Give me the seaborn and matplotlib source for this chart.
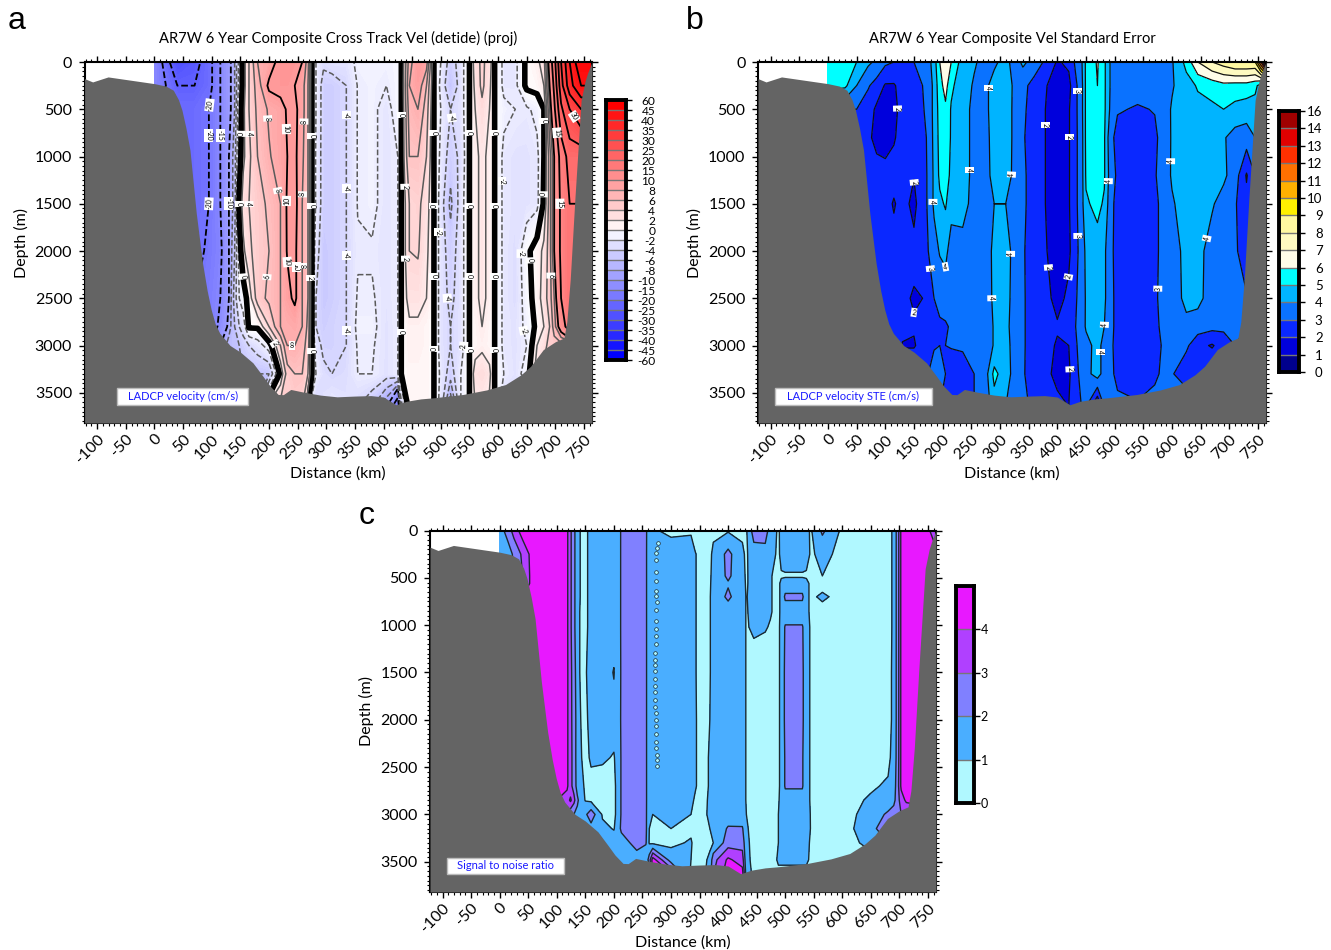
import numpy as np
import seaborn as sns
import matplotlib
matplotlib.use('Agg')
import matplotlib.pyplot as plt
from matplotlib.colors import ListedColormap
from matplotlib.patches import Rectangle
from matplotlib.ticker import MultipleLocator

bathy_km = [-122, -108, -81, 0, 20, 33, 42, 48, 55, 62, 73, 84, 92, 99, 106, 114, 132, 150, 172, 190, 202, 216, 225, 238, 260, 290, 319, 350, 378, 400, 412, 422, 440, 465, 488, 539, 580, 613, 640, 657, 679, 700, 715, 720, 726, 734, 745, 752, 756, 764]
bathy_m = [176, 211, 158, 229, 255, 299, 400, 510, 700, 932, 1600, 2130, 2420, 2620, 2770, 2870, 3000, 3070, 3184, 3330, 3430, 3518, 3520, 3465, 3493, 3525, 3543, 3535, 3530, 3545, 3590, 3627, 3590, 3565, 3553, 3518, 3470, 3413, 3310, 3219, 3043, 2960, 2920, 2750, 2300, 1460, 405, 200, 123, 0]

# panel a, cross track velocity (cm/s)
a_km = [0, 40, 70, 95, 115, 130, 140, 148, 155, 165, 180, 200, 220, 232, 245, 258, 268, 275, 282, 295, 310, 335, 355, 380, 405, 425, 431, 445, 460, 475, 488, 500, 517, 535, 550, 560, 572, 585, 594, 610, 630, 650, 668, 680, 690, 698, 710, 725, 745, 764]
a_depth = [0, 250, 500, 1000, 1500, 2000, 2500, 2800, 3000, 3300, 3650]
vel_0 = [-15, -30, -27, -22, -15, -11, -8, -3, 1, 4, 8, 8.7, 11, 11.5, 11, 10, 7, 0, -2, -3.5, -3, -3, -1.5, -1.5, -1.5, -1, 0, 7, 10, 9, 0, -2, -5, -3, 0, 3, 4.5, 3, 0, -2.5, -2.5, 0.5, 1.5, 3, 12, 18, 30, 40, 50, 50]
vel_250 = [-15, -25, -25, -22, -15, -11, -8, -3, 1, 4, 7, 10.5, 11, 11, 10, 9, 6, 0, -2, -5, -5, -4, -1.9, -1.5, -2, -1, 0, 8, 9.5, 6, 0, -2.5, -6, -3, 0, 2.5, 4.5, 2.5, 0, -2.5, -2.5, 0.5, 0.8, 2, 10, 16, 28, 38, 45, 45]
vel_500 = [-20, -22, -22, -20, -15, -11, -8, -2, 1.5, 4, 6.5, 8.3, 9, 10.3, 10.5, 9, 6, 0, -2, -5, -5, -4, -1.9, -1.5, -2.8, -1, 0, 7, 8, 5, 0, -2, -4, -3, 0, 2, 3.5, 2, 0, -1.5, -2, -2.3, -1.5, 0, 8, 14, 24, 30, 35, 35]
vel_1000 = [-20, -22, -22, -20, -15, -10, -7, -1, 1.5, 3.5, 6, 7.8, 9, 10, 10.5, 8.5, 6, 0, -2.2, -5, -5, -4, -1.9, -1.5, -2.8, -2, 0, 6, 6, 4, 0, -2.5, -5, -3.5, 0, 1.5, 2.5, 1.5, 0, -2.5, -3, -3, -2.5, 0, 5, 10, 17, 22, 22, 22]
vel_1500 = [-20, -22, -22, -20, -15, -10, -7, 0.3, 3, 4, 5, 6.5, 8, 10.3, 10.8, 8, 6, 0, -2.2, -5, -5, -4, -1.9, -1.5, -2.8, -2, 0, 4, 4.5, 3, 0, -3, -6.5, -3, 0, 1.5, 2.5, 1.5, 0, -2.5, -3, -3, -2.5, 0.3, 5, 10, 16, 20, 20, 20]
vel_2000 = [-20, -22, -22, -19, -16, -10, -6, -1, 1.5, 3.5, 5, 6, 8, 10.2, 10.5, 8, 6, 0, -3, -5.5, -5, -4, -2.2, -2.2, -2.8, -2, 0, 4, 4.2, 2.5, 0, -3, -5, -3, 0, 1.5, 2.5, 1.5, 0, -2.5, -3.5, -0.5, 1, 2.5, 5, 10, 16, 20, 20, 20]
vel_2500 = [-20, -20, -20, -18, -15, -10, -5, -2, -1, 0.8, 5, 6.5, 8, 9.3, 10.5, 8, 6, 0, -4, -5.5, -5, -4, -1.8, -1.8, -2.8, -2, 0, 3, 3, 2, 0, -3, -4.5, -3, 0, 1.5, 2.5, 1.5, 0, -2.5, -3.5, -1, 1, 3, 5, 8, 15, 20, 20, 20]
vel_2800 = [-20, -20, -20, -18, -14, -9, -6, -4, -3, 0.3, 0.3, 4, 8, 8.2, 8.5, 8, 5.5, 0, -4, -5, -4.5, -4, -1.5, -1.5, -3, -2, 0, 1.5, 1.5, 1, 0, -3, -4, -3, 0, 1, 2, 1, 0, -2.5, -3, -1.5, 0.5, 2, 4, 7, 12, 18, 18, 18]
vel_3000 = [-20, -20, -20, -15, -10, -7, -6, -6, -5, -4, -3, -1, 4, 8, 8, 7, 5, 0, -3, -4.5, -4.5, -4, -1.8, -1.8, -3, -2, 0, 1.5, 1.5, 1, 0, -3, -4, -3, 0, 1, 1.5, 1, 0, -2.5, -3, -2, 2, 3, 5, 5, 5, 5, 5, 5]
vel_3300 = [-20, -20, -20, -15, -10, -7, -6, -6, -6, -6, -6, -6, 0.5, 5, 6, 6, 4, 0, -2, -3.5, -4, -3.5, -2, -2, -3, -2, 0, 1, 1, 1, 0, -2.5, -5, -2, 0, 3, 3.5, 2.5, 0, -2, -3, -1, 3, 5, 5, 5, 5, 5, 5, 5]
vel_3650 = [-20, -20, -20, -15, -10, -7, -6, -6, -6, -6, -6, 3, 5, 5, 5, 4, 0, -3, -5, -3, -2, -3, -4, -6, -10, -20, -5, 1, 1, 1, 0, -3, -10, -2, 0, 2, 2, 1.5, 0, -4, -5, -5, 3, 3, 3, 3, 3, 3, 3, 3]
vel_levels = [-60, -45, -40, -35, -30, -25, -20, -15, -10, -8, -6, -4, -2, 0, 2, 4, 6, 8, 10, 15, 20, 25, 30, 35, 40, 45, 60]

# panel b, velocity standard error (cm/s)
b_km = [0, 30, 50, 70, 85, 100, 115, 130, 150, 165, 175, 185, 195, 205, 215, 235, 255, 275, 290, 310, 325, 340, 360, 375, 400, 420, 432, 442, 450, 470, 482, 492, 505, 540, 570, 585, 600, 625, 645, 670, 690, 710, 730, 745, 755, 764]
b_depth = [0, 250, 500, 800, 1200, 1500, 2000, 2500, 2800, 3000, 3300, 3650]
ste_0 = [5.5, 6, 5, 4.2, 3.8, 3.2, 3, 3, 3, 3.2, 3.6, 4.5, 6, 6.9, 6, 4.5, 4.1, 3.7, 3.8, 4.4, 3.5, 4.2, 3.6, 3, 1.9, 2.2, 3.2, 3.8, 5.2, 6.1, 5.2, 4, 3.5, 3.8, 3.6, 3.5, 3.9, 5.3, 7, 8, 8.5, 9, 9, 9, 12, 16]
ste_250 = [5.5, 5.2, 4, 3.1, 2.6, 1.9, 1.9, 2.4, 2.8, 3, 3.3, 4.3, 5.6, 6.4, 5.2, 4.4, 3.9, 3.8, 4.4, 4.6, 3.8, 3.3, 2.6, 2.2, 1.5, 1.7, 2.8, 3.6, 5.2, 6, 5.2, 4.0, 3.5, 3.4, 3.3, 3.5, 3.9, 4.6, 5.1, 5.4, 5.7, 5.6, 5.6, 5.3, 4.5, 4]
ste_500 = [3, 3, 3, 2.5, 1.8, 1.5, 1.7, 2.4, 2.7, 2.9, 3.3, 4.3, 5.4, 5.8, 4.9, 4.3, 3.8, 3.8, 4.4, 4.5, 3.8, 3.2, 2.5, 2.1, 1.5, 1.9, 2.8, 3.6, 5.2, 5.8, 5.2, 3.9, 3.1, 2.9, 3.05, 3.5, 4.1, 4.5, 4.7, 4.8, 5.0, 4.7, 4.5, 4.5, 4, 4]
ste_800 = [2.5, 2.5, 2.6, 2.2, 1.7, 1.5, 1.9, 2.4, 2.6, 2.8, 3.1, 4.3, 5.3, 5.6, 4.9, 4.3, 3.8, 3.7, 4.4, 4.5, 3.8, 3.1, 2.5, 2.1, 1.5, 1.9, 2.8, 3.5, 5.2, 5.7, 5.1, 3.4, 2.6, 2.3, 2.8, 3.4, 4.1, 4.5, 4.5, 4.5, 4.1, 3.6, 3.5, 4, 4, 4]
ste_1200 = [2.5, 2.5, 2.5, 2.5, 2.4, 2.4, 2.4, 2.3, 2.05, 2.7, 3.1, 4.2, 5.2, 5.4, 4.8, 4.3, 3.8, 3.7, 4.3, 4.4, 3.8, 3.2, 2.5, 2.1, 1.5, 1.9, 2.8, 3.5, 5.1, 5.5, 5.1, 3.6, 2.8, 2.4, 2.9, 3.5, 4.1, 4.5, 4.5, 4.4, 4.2, 3.5, 1.9, 3, 3, 3]
ste_1500 = [2.5, 2.5, 2.5, 2.5, 2.4, 2.4, 1.9, 2.4, 1.7, 2.7, 3.1, 4.2, 4.8, 5.1, 4.4, 4.2, 3.8, 3.7, 4.0, 4.0, 3.8, 3.2, 2.5, 2.1, 1.5, 1.9, 2.8, 3.5, 4.9, 5.2, 4.9, 3.4, 2.6, 2.3, 2.7, 3.4, 3.9, 4.4, 4.3, 4.1, 3.6, 3.1, 2.3, 3, 3, 3]
ste_2000 = [2.5, 2.5, 2.5, 2.5, 2.6, 2.4, 2.4, 2.5, 2.3, 2.7, 3.0, 3.5, 4.1, 4.3, 3.5, 3.8, 3.2, 3.4, 4.3, 4.4, 3.7, 3.1, 2.5, 2.2, 1.5, 1.8, 2.7, 3.4, 4.2, 4.7, 4.2, 3.3, 2.6, 2.3, 2.7, 3.4, 3.7, 4.2, 4.3, 3.6, 3.3, 3.2, 2.3, 3, 3, 3]
ste_2500 = [2.5, 2.5, 2.5, 2.5, 2.7, 2.5, 2.4, 2.2, 1.9, 2.0, 2.9, 3, 3.2, 3.4, 3.5, 3.5, 3.3, 3.5, 4.2, 4.3, 3.7, 3.1, 2.6, 2.4, 1.7, 2.2, 2.9, 3.4, 4.1, 4.8, 4.2, 3.3, 2.7, 2.4, 2.8, 3.4, 3.6, 4.2, 4.3, 3.5, 3.3, 3.1, 3.1, 3, 3, 3]
ste_2800 = [3, 3, 3, 3, 3, 2.8, 2.6, 2.4, 2.1, 2.1, 2.5, 2.7, 2.9, 2.9, 3.1, 3.2, 3.3, 3.4, 4.1, 4.2, 3.7, 3.1, 2.6, 2.4, 2.1, 2.4, 3, 3.5, 4.1, 4.6, 4.0, 3.3, 2.7, 2.4, 2.8, 3.2, 3.4, 3.8, 3.5, 3.3, 3.2, 3.1, 3, 3, 3, 3]
ste_3000 = [3, 3, 3, 3, 3, 3, 3, 1.9, 1.9, 2.4, 2.7, 2.9, 3, 3, 3.1, 3.2, 3.3, 3.4, 4.1, 4.3, 3.7, 3.1, 2.6, 2.4, 1.9, 2.0, 2.9, 3.3, 3.7, 4.3, 3.7, 3.2, 2.7, 2.4, 2.7, 3.1, 3.2, 3.2, 2.3, 1.9, 2.5, 3, 3, 3, 3, 3]
ste_3300 = [3, 3, 3, 3, 3, 3, 3, 3, 3, 3, 3, 3.5, 3.3, 3, 2.2, 2.3, 3, 3.6, 5.3, 4.4, 3.7, 3.1, 2.5, 2.4, 1.7, 1.8, 2.8, 3.2, 3.6, 4.5, 3.5, 3.2, 2.8, 2.6, 2.9, 3.1, 3.1, 2.3, 2.4, 3, 3.2, 3, 3, 3, 3, 3]
ste_3650 = [3, 3, 3, 3, 3, 3, 3, 3, 3, 3, 3, 3, 3, 1.8, 2.4, 2.6, 3, 3.5, 4.5, 4, 3.6, 3.1, 2.9, 2.6, 2.3, 2, 2.5, 3, 3, 0.8, 3, 3.2, 3.2, 3.1, 3.2, 3.3, 3.5, 4, 4, 4, 4, 4, 4, 4, 4, 4]
ste_levels = [0, 1, 2, 3, 4, 5, 6, 7, 8, 9, 10, 11, 12, 13, 14, 16]
ste_colors = ['#00008c', '#0000dc', '#0a28ff', '#0a72ff', '#00b4ff', '#00ffff', '#fffce8', '#fffac0', '#fff8a0', '#fff000', '#ffb000', '#ff7000', '#ff3000', '#e00000', '#a00000']

# panel c, signal to noise ratio
c_km = [0, 15, 25, 40, 60, 100, 118, 124, 130, 136, 142, 150, 160, 180, 200, 207, 213, 240, 256, 262, 268, 300, 335, 342, 355, 368, 374, 400, 425, 432, 445, 465, 474, 488, 493, 500, 530, 537, 545, 565, 600, 650, 680, 690, 697, 703, 712, 740, 764]
c_depth = [0, 250, 480, 560, 700, 860, 1020, 1500, 2000, 2400, 2700, 2850, 3000, 3150, 3300, 3480, 3650]
snr_0 = [1.5, 2.5, 3.4, 4.5, 4.6, 4.6, 4.2, 3.2, 2.2, 1.5, 0.9, 0.8, 1.3, 1.4, 1.4, 1.6, 2.1, 2.4, 2.2, 1.3, 1.1, 0.8, 0.9, 0.7, 0.7, 0.8, 0.9, 0.9, 0.9, 0.9, 2.5, 2.6, 1.4, 0.9, 1.2, 1.4, 1.4, 1.2, 0.9, 2.2, 0.8, 0.5, 0.6, 1.2, 2.5, 4.2, 4.6, 4.6, 3.5]
snr_250 = [1.5, 1.5, 2.2, 3.2, 4.6, 4.6, 4.2, 3.2, 2.2, 1.5, 0.9, 0.8, 1.3, 1.4, 1.4, 1.6, 2.1, 2.4, 2.2, 1.2, 1.4, 1.5, 1.4, 1.05, 0.7, 0.9, 1.1, 2.3, 1.1, 0.9, 1.5, 1.5, 1.4, 0.8, 1.3, 1.5, 1.5, 1.3, 0.9, 1.2, 0.8, 0.5, 0.6, 1.2, 2.5, 4.2, 4.6, 4.6, 4.2]
snr_480 = [1.5, 1.5, 2, 3, 4.6, 4.6, 4.2, 3.2, 2.2, 1.5, 0.9, 0.8, 1.3, 1.4, 1.4, 1.6, 2.1, 2.4, 2.2, 1.2, 1.4, 1.5, 1.4, 1.05, 0.7, 0.9, 1.2, 2.2, 1.2, 0.9, 1.4, 1.3, 1.05, 0.8, 0.9, 0.9, 0.9, 0.9, 0.9, 1.0, 0.7, 0.6, 0.6, 1.2, 2.5, 4.2, 4.6, 4.6, 4.6]
snr_560 = [1.5, 1.5, 2, 3, 4.6, 4.6, 4.2, 3.2, 2.2, 1.5, 0.9, 0.8, 1.3, 1.4, 1.4, 1.6, 2.1, 2.4, 2.2, 1.2, 1.4, 1.5, 1.4, 1.05, 0.7, 0.9, 1.3, 1.9, 1.3, 0.9, 1.4, 1.3, 1.05, 0.8, 1.2, 1.4, 1.4, 1.2, 0.85, 0.7, 0.7, 0.6, 0.6, 1.2, 2.5, 4.2, 4.6, 4.6, 4.6]
snr_700 = [1.5, 1.5, 3, 4, 4.6, 4.6, 4.2, 3.2, 2.2, 1.5, 0.9, 0.8, 1.3, 1.4, 1.4, 1.6, 2.1, 2.4, 2.2, 1.2, 1.4, 1.5, 1.4, 1.05, 0.7, 0.95, 1.3, 2.2, 1.3, 0.95, 1.4, 1.3, 1.05, 0.8, 1.2, 2.2, 2.2, 1.2, 0.85, 1.15, 0.7, 0.6, 0.6, 1.2, 2.5, 4.2, 4.6, 4.6, 4.6]
snr_860 = [4.6, 4.6, 4.6, 4.6, 4.6, 4.6, 4.2, 3.2, 2.2, 1.5, 0.8, 0.8, 1.3, 1.4, 1.4, 1.6, 2.1, 2.5, 2.2, 1.2, 1.4, 1.5, 1.4, 1.05, 0.7, 0.95, 1.3, 1.5, 1.3, 0.95, 1.2, 1.15, 1.05, 0.8, 1.2, 1.4, 1.4, 1.2, 0.85, 0.7, 0.7, 0.6, 0.6, 1.2, 2.5, 4.2, 4.6, 4.6, 4.6]
snr_1020 = [4.6, 4.6, 4.6, 4.6, 4.6, 4.6, 4.2, 3.2, 2.2, 1.5, 0.8, 0.8, 1.3, 1.4, 1.4, 1.6, 2.1, 2.5, 2.2, 1.2, 1.3, 1.5, 1.4, 1.05, 0.7, 0.95, 1.3, 1.5, 1.3, 0.95, 1.1, 1.05, 0.95, 0.8, 1.3, 2.1, 2.1, 1.3, 0.9, 0.7, 0.7, 0.6, 0.6, 1.2, 2.5, 4.2, 4.6, 4.6, 4.6]
snr_1500 = [4.6, 4.6, 4.6, 4.6, 4.6, 4.6, 4.2, 3.3, 2.4, 1.5, 0.8, 0.9, 1.4, 1.5, 0.95, 1.5, 2.1, 2.4, 2.2, 1.2, 1.3, 1.5, 1.3, 1.05, 0.7, 0.95, 1.3, 1.5, 1.3, 0.95, 0.7, 0.6, 0.6, 0.8, 1.3, 2.2, 2.2, 1.3, 0.9, 0.7, 0.7, 0.6, 0.7, 1.2, 2.5, 4.2, 4.6, 4.6, 4.6]
snr_2000 = [4.6, 4.6, 4.6, 4.6, 4.6, 4.6, 4.2, 3.3, 2.5, 1.6, 1.0, 0.8, 1.3, 1.4, 1.3, 1.6, 2.1, 2.5, 2.2, 1.2, 1.3, 1.5, 1.3, 1.05, 0.8, 1.0, 1.2, 1.5, 1.3, 0.95, 0.7, 0.6, 0.6, 0.8, 1.3, 2.2, 2.2, 1.3, 0.9, 0.7, 0.7, 0.6, 0.7, 1.2, 2.5, 4.2, 4.6, 4.6, 4.6]
snr_2400 = [4.6, 4.6, 4.6, 4.6, 4.6, 4.5, 4.2, 3.3, 2.6, 1.5, 1.05, 0.8, 1.1, 1.1, 0.95, 1.3, 2.1, 2.5, 2.2, 1.2, 1.3, 1.4, 1.2, 1.05, 0.8, 1.05, 1.2, 1.5, 1.3, 0.95, 0.7, 0.6, 0.6, 0.8, 1.3, 2.1, 2.1, 1.3, 0.9, 0.7, 0.7, 0.7, 0.8, 1.3, 2.5, 4.2, 4.6, 4.6, 4.6]
snr_2700 = [4.6, 4.6, 4.6, 4.6, 4.6, 4.4, 4.2, 3.3, 2.6, 1.6, 1.2, 0.9, 0.8, 0.7, 0.8, 1.3, 2.1, 2.5, 2.2, 1.2, 1.3, 1.4, 1.2, 1.05, 0.8, 1.05, 1.3, 1.5, 1.3, 0.95, 0.7, 0.6, 0.6, 0.8, 1.3, 2.1, 2.1, 1.3, 0.9, 0.7, 0.7, 0.9, 1.1, 1.5, 2.6, 4.2, 4.6, 4.6, 4.6]
snr_2850 = [4.6, 4.6, 4.6, 4.6, 4.6, 4, 3.5, 4.2, 3.3, 2.2, 1.5, 0.95, 0.8, 0.7, 0.8, 1.3, 2.1, 2.5, 2.2, 1.2, 1.3, 1.4, 1.1, 0.95, 0.8, 1.1, 1.3, 1.5, 1.3, 0.95, 0.7, 0.6, 0.6, 0.9, 1.3, 1.6, 1.6, 1.3, 0.9, 0.7, 0.7, 1.1, 1.3, 1.7, 2.6, 3.5, 4.2, 4.6, 4.6]
snr_3000 = [4.6, 4.6, 4.6, 4.6, 4.6, 3.5, 2.7, 2.2, 2, 1.7, 1.6, 1.8, 2.6, 0.9, 0.8, 1.3, 2.1, 2.4, 2.2, 1.1, 1, 1.2, 1.0, 0.9, 0.7, 1.2, 1.3, 1.5, 1.4, 1.0, 0.7, 0.6, 0.6, 1.0, 1.3, 1.5, 1.5, 1.3, 0.95, 0.7, 0.7, 1.3, 2.2, 2.5, 2.6, 3, 3, 3, 3]
snr_3150 = [4, 4, 4, 4, 4, 3, 3, 2, 1.8, 1.6, 1.5, 1.4, 1.6, 1.2, 0.95, 1.5, 2.2, 2.4, 2.2, 1.0, 0.9, 1.0, 0.8, 0.7, 0.7, 1.0, 1.2, 2.1, 2.1, 1.1, 0.7, 0.6, 0.6, 1.0, 1.4, 1.6, 1.6, 1.4, 0.95, 0.7, 0.8, 1.3, 3.5, 3.5, 3.5, 3.5, 3.5, 3.5, 3.5]
snr_3300 = [3, 3, 3, 3, 3, 3, 3, 2, 2, 2, 1.6, 1.5, 1.4, 1.4, 1.4, 1.5, 1.5, 2.4, 2.1, 0.9, 0.8, 0.8, 1.1, 0.7, 0.7, 0.8, 1.0, 2.5, 2.6, 1.2, 0.7, 0.6, 0.6, 1.0, 1.3, 1.9, 1.9, 1.2, 0.9, 0.7, 0.7, 1.2, 2, 2, 2, 2, 2, 2, 2]
snr_3480 = [2, 2, 2, 2, 2, 2, 2, 2, 2, 2, 1.5, 1.5, 1.5, 1.5, 1.5, 1.5, 1.5, 1.5, 1.2, 2.5, 4.5, 1.5, 1.0, 0.8, 0.7, 1.2, 2.6, 4.2, 3.5, 1.2, 0.8, 0.6, 0.6, 1.1, 1.1, 1.1, 1.1, 1.1, 0.9, 0.7, 0.7, 0.8, 1, 1, 1, 1, 1, 1, 1]
snr_3650 = [2, 2, 2, 2, 2, 2, 2, 2, 2, 2, 1.5, 1.5, 1.5, 1.5, 1.5, 1.5, 1.5, 1.5, 1, 1, 4.5, 4.5, 0.8, 0.7, 0.7, 1.5, 3, 4.6, 4.6, 1.5, 0.8, 0.6, 0.6, 0.8, 0.8, 0.8, 0.8, 0.8, 0.6, 0.7, 0.8, 1, 1, 1, 1, 1, 1, 1, 1]
snr_levels = [0, 1, 2, 3, 4, 5]
snr_ticks = [0, 1, 2, 3, 4]
snr_colors = ['#b0f8ff', '#4aaeff', '#8080ff', '#b040ff', '#e818ff']
# chain of tiny low-ratio pockets near 275 km
pocket_km = [278, 276, 274, 273, 274, 274, 274, 274, 275, 274, 273, 273, 273, 273, 272, 272, 272, 272, 272, 272, 272, 272, 272, 273, 273, 273, 274, 274, 274, 275, 275, 275]
pocket_m = [130, 190, 240, 310, 440, 530, 640, 690, 760, 840, 960, 1040, 1120, 1200, 1290, 1370, 1420, 1480, 1570, 1640, 1710, 1790, 1860, 1930, 2000, 2070, 2150, 2230, 2300, 2370, 2430, 2490]

# contour label spots
a_labels = [(153, 760), (147, 1500), (155, 2270), (275, 780), (275, 1520), (272, 2290), (275, 3060), (429, 560), (437, 1320), (440, 2080), (440, 2860),
            (490, 750), (488, 1520), (488, 2270), (485, 3040), (550, 750), (550, 1520), (550, 2270), (550, 3050), (594, 750), (594, 1520), (594, 2270), (594, 3050),
            (680, 620), (680, 1400), (653, 2100), (638, 2850), (170, 760), (175, 1500), (185, 2270), (190, 600), (215, 1360), (228, 2120), (230, 710),
            (228, 1470), (245, 2170), (262, 630), (258, 1400), (257, 2160), (340, 560), (330, 1340), (338, 2050), (332, 2840), (100, 780), (100, 1500), (90, 450),
            (115, 780), (125, 1500), (240, 3000), (210, 2980), (520, 590), (500, 1800), (505, 2500), (530, 3000), (620, 1260), (625, 2030), (690, 2260), (700, 750), (715, 1500), (740, 550)]
b_labels = [(106, 500), (156, 1270), (182, 1480), (250, 1140), (310, 1190), (278, 280), (320, 2030), (228, 2350), (278, 2500), (146, 2720), (160, 2200),
            (380, 670), (418, 790), (437, 310), (392, 2170), (407, 2260), (427, 3250), (440, 1840), (486, 1260), (482, 2780), (470, 3070), (600, 1050), (640, 1840), (590, 2400)]

distance_ticks = list(range(-100, 751, 50))
depth_ticks = list(range(0, 3501, 500))

sns.set_theme(style='ticks')
plt.rcParams['font.family'] = ['Lato', 'DejaVu Sans']
plt.rcParams['axes.linewidth'] = 1.5
plt.rcParams['axes.unicode_minus'] = False
for key in ['text.color', 'axes.labelcolor', 'xtick.color', 'ytick.color', 'axes.edgecolor']:
    plt.rcParams[key] = 'black'

W, H = 1331, 950
fig = plt.figure(figsize=(W / 100, H / 100), dpi=100)


def box(l, t, r, b):
    return fig.add_axes([l / W, 1 - b / H, (r - l) / W, (b - t) / H])


def section(rect, letter, letter_xy, title, note, note_span):
    ax = box(*rect)
    ax.set_xlim(-122, 764)
    ax.set_ylim(3820, 0)
    ax.set_facecolor('white')
    ax.set_xticks(distance_ticks)
    ax.set_yticks(depth_ticks)
    ax.xaxis.set_minor_locator(MultipleLocator(10))
    ax.yaxis.set_minor_locator(MultipleLocator(50))
    ax.tick_params(which='major', top=True, right=True, length=4, width=1, labelsize=11.5, pad=2.5)
    ax.tick_params(axis='y', which='major', pad=5)
    ax.tick_params(which='minor', top=True, right=True, length=2, width=0.8)
    plt.setp(ax.get_xticklabels(), rotation=45, ha='right', rotation_mode='anchor')
    ax.set_xlabel('Distance (km)', fontsize=11.5, labelpad=0)
    ax.set_ylabel('Depth (m)', fontsize=11.5, labelpad=4)
    if title:
        ax.set_title(title, fontsize=10.6, pad=13.5)
    ax.fill_between(bathy_km, bathy_m, 3820, color='#646464', lw=0, zorder=5)
    x0, x1, d0, d1 = note_span
    ax.add_patch(Rectangle((x0, d0), x1 - x0, d1 - d0, fc='white', ec='#bbbbbb', lw=1, zorder=6))
    ax.text((x0 + x1) / 2, (d0 + d1) / 2, note, color='#1a1aff', fontsize=8, ha='center', va='center', zorder=7)
    fig.text(letter_xy[0] / W, 1 - letter_xy[1] / H, letter, fontsize=23, family='Liberation Sans', ha='left', va='baseline')
    return ax


def color_key(rect, levels, colors, ticks, size, pad, sep='#777777'):
    ax = box(*rect)
    steps = np.arange(len(levels))
    ax.pcolormesh([0, 1], steps, np.arange(len(colors)).reshape(-1, 1), cmap=ListedColormap(colors), shading='flat')
    ax.hlines(steps[1:-1], 0, 1, color=sep, lw=1)
    ax.set_xlim(0, 1)
    ax.set_ylim(steps[0], steps[-1])
    ax.set_xticks([])
    ax.yaxis.tick_right()
    ax.set_yticks([levels.index(t) for t in ticks])
    ax.set_yticklabels([f'{t:g}' for t in ticks], ha='right')
    ax.tick_params(axis='y', length=4, width=1, labelsize=size, pad=pad)
    for s in ax.spines.values():
        s.set_linewidth(2.8)
        s.set_color('black')
    return ax


def tag(cs, spots, size=5):
    texts = cs.clabel(manual=spots, inline=False, fontsize=size, fmt='%g', colors='black')
    for t in texts:
        t.set_bbox(dict(fc='white', ec='none', pad=0.7))
        t.set_zorder(4)


# panel a
ax_a = section((84.6, 62, 592, 423), 'a', (8, 29), 'AR7W 6 Year Composite Cross Track Vel (detide) (proj)',
               'LADCP velocity (cm/s)', (-65, 164, 3445, 3625))
vel = np.array([vel_0, vel_250, vel_500, vel_1000, vel_1500, vel_2000, vel_2500, vel_2800, vel_3000, vel_3300, vel_3650])
vel_colors = list(sns.blend_palette(['#0000ff', '#f3f3ff'], 13)) + list(sns.blend_palette(['#fff3f3', '#ff0000'], 13))
# the section fill runs smoothly, only the key is stepped
n_sub = 5
fine_levels = np.interp(np.linspace(0, 26, 26 * n_sub + 1), np.arange(27), vel_levels)
fine_colors = sns.blend_palette(['#0000ff', '#ffffff', '#ff0000'], 26 * n_sub)
fill_a = ax_a.contourf(a_km, a_depth, vel, levels=fine_levels, colors=fine_colors)
fill_a.set_edgecolor('face')
fill_a.set_linewidth(0.3)
line_colors = ['black' if abs(v) >= 10 or v == 0 else '#5a5a5a' for v in vel_levels]
line_widths = [4 if v == 0 else 1.3 if abs(v) >= 10 else 1.1 for v in vel_levels]
line_styles = ['--' if v < 0 else '-' for v in vel_levels]
cs_a = ax_a.contour(a_km, a_depth, vel, levels=vel_levels, colors=line_colors, linewidths=line_widths, linestyles=line_styles)
tag(cs_a, a_labels)
color_key((606, 100, 626, 360), vel_levels, vel_colors, vel_levels, 8.6, 17)

# panel b
ax_b = section((758, 62, 1266, 423), 'b', (686, 29), 'AR7W 6 Year Composite Vel Standard Error',
               'LADCP velocity STE (cm/s)', (-93, 182, 3445, 3625))
ste = np.array([ste_0, ste_250, ste_500, ste_800, ste_1200, ste_1500, ste_2000, ste_2500, ste_2800, ste_3000, ste_3300, ste_3650])
ax_b.contourf(b_km, b_depth, ste, levels=ste_levels, colors=ste_colors)
cs_b = ax_b.contour(b_km, b_depth, ste, levels=ste_levels, colors='#111111', linewidths=0.9)
tag(cs_b, b_labels)
color_key((1279, 111, 1299, 372), ste_levels, ste_colors, ste_levels, 9.5, 13)

# panel c
ax_c = section((430, 530.5, 936, 892), 'c', (359, 524), None, 'Signal to noise ratio', (-93, 113, 3458, 3630))
snr = np.array([snr_0, snr_250, snr_480, snr_560, snr_700, snr_860, snr_1020, snr_1500, snr_2000, snr_2400, snr_2700, snr_2850, snr_3000, snr_3150, snr_3300, snr_3480, snr_3650])
ax_c.contourf(c_km, c_depth, snr, levels=snr_levels, colors=snr_colors)
ax_c.contour(c_km, c_depth, snr, levels=snr_levels, colors='#1c2a30', linewidths=1)
sns.scatterplot(x=pocket_km, y=pocket_m, ax=ax_c, s=7, color=snr_colors[0], edgecolor='#1c2a30', linewidth=0.5, zorder=3, legend=False)
ax_c.set_xlabel('Distance (km)', fontsize=11.5, labelpad=0)
ax_c.set_ylabel('Depth (m)', fontsize=11.5, labelpad=4)
color_key((956, 586, 974, 803), snr_levels, snr_colors, snr_ticks, 9, 6)

fig.savefig('out.png', dpi=100)
